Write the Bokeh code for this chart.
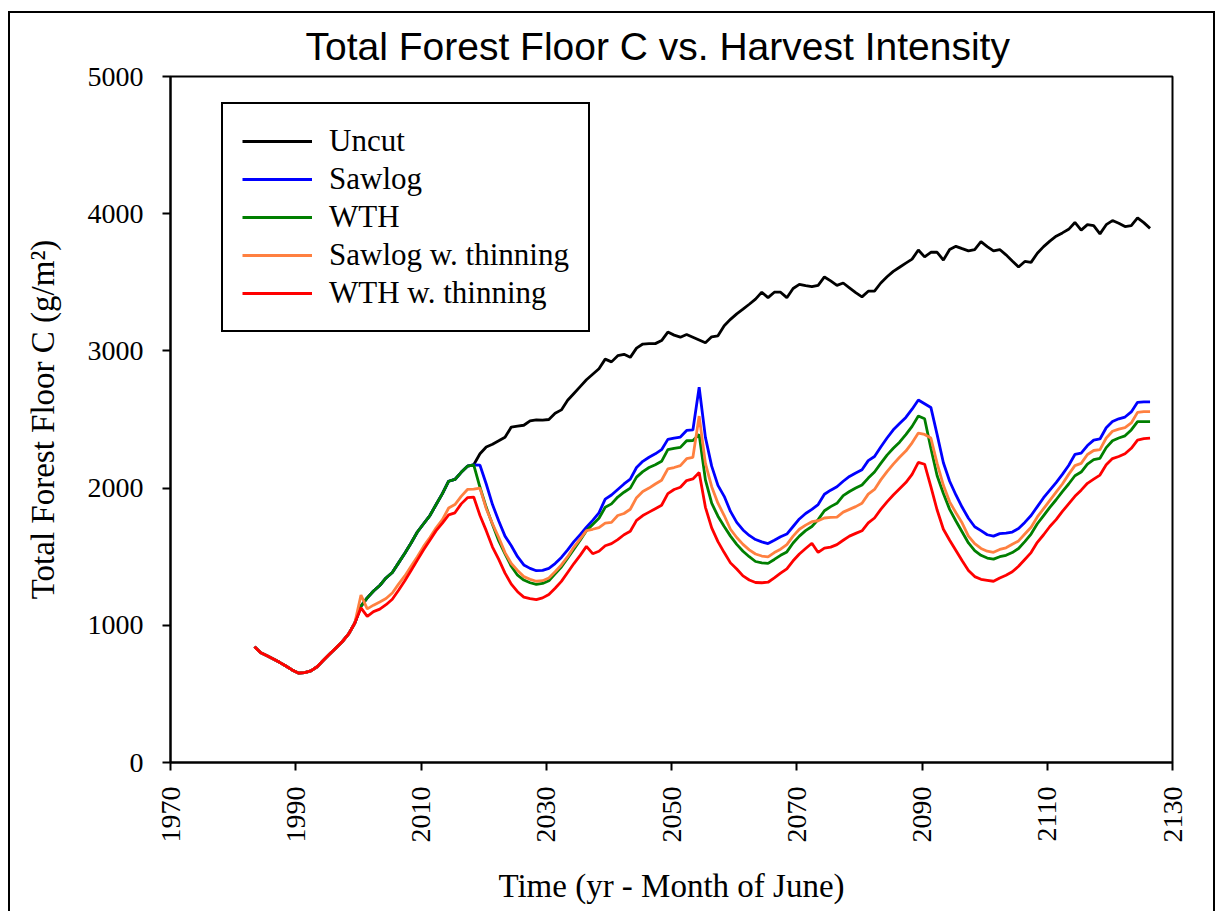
import numpy as np
from bokeh.plotting import figure
from bokeh.models import Legend, LegendItem, Range1d, FixedTicker
from bokeh.embed import file_html
from bokeh.resources import INLINE

# ---------------- data ----------------
years = list(range(1983, 2127))          # one value each June

pre_1983_1999 = [843, 800, 778, 755, 730, 703, 675, 652, 655, 668,
                 698, 745, 790, 835, 880, 935, 1015]

untreated_2000_2018 = [1140, 1200, 1250, 1290, 1345, 1385, 1455, 1525, 1600, 1680,
                       1740, 1800, 1880, 1960, 2050, 2063, 2115, 2160, 2170]

uncut_2019_2126 = [2250, 2300, 2320, 2345, 2370, 2445, 2452, 2458, 2490, 2498,
                   2495, 2500, 2545, 2570, 2640, 2690, 2740, 2790, 2830, 2870,
                   2940, 2920, 2965, 2975, 2953, 3020, 3050, 3053, 3053, 3075,
                   3137, 3115, 3100, 3120, 3100, 3080, 3060, 3103, 3110, 3184,
                   3230, 3270, 3304, 3340, 3377, 3428, 3388, 3428, 3428, 3388,
                   3455, 3485, 3475, 3468, 3478, 3539, 3510, 3478, 3495, 3460,
                   3425, 3394, 3435, 3435, 3495, 3540, 3580, 3610, 3640, 3669,
                   3735, 3685, 3719, 3719, 3662, 3739, 3762, 3745, 3729, 3739,
                   3796, 3760, 3729, 3739, 3700, 3655, 3612, 3652, 3645, 3712,
                   3760, 3800, 3836, 3860, 3886, 3936, 3880, 3920, 3913, 3853,
                   3920, 3950, 3930, 3906, 3913, 3970, 3935, 3893]

sawlog_2019_2126 = [2167, 2030, 1880, 1760, 1650, 1580, 1500, 1440, 1415, 1398,
                    1400, 1415, 1450, 1495, 1550, 1610, 1660, 1715, 1765, 1820,
                    1920, 1950, 1990, 2030, 2065, 2150, 2195, 2225, 2250, 2280,
                    2355, 2365, 2372, 2420, 2424, 2735, 2370, 2160, 2020, 1940,
                    1830, 1750, 1695, 1655, 1625, 1608, 1596, 1620, 1645, 1665,
                    1720, 1775, 1815, 1845, 1880, 1955, 1985, 2010, 2050, 2085,
                    2110, 2134, 2200, 2230, 2300, 2365, 2425, 2470, 2515, 2575,
                    2642, 2615, 2588, 2390, 2185, 2050, 1950, 1860, 1780, 1718,
                    1690, 1660, 1650, 1668, 1672, 1680, 1705, 1750, 1800, 1865,
                    1930, 1985, 2040, 2100, 2165, 2245, 2255, 2310, 2350, 2358,
                    2440, 2485, 2505, 2518, 2555, 2625, 2628, 2628]

wth_2019_2126 = [2006, 1860, 1735, 1615, 1520, 1430, 1365, 1330, 1310, 1298,
                 1305, 1325, 1375, 1425, 1490, 1555, 1620, 1690, 1735, 1780,
                 1860, 1885, 1935, 1970, 2000, 2080, 2120, 2150, 2170, 2195,
                 2280, 2290, 2297, 2345, 2347, 2391, 2060, 1890, 1795, 1720,
                 1650, 1590, 1540, 1500, 1465, 1455, 1451, 1480, 1510, 1535,
                 1600, 1650, 1690, 1720, 1770, 1835, 1865, 1889, 1945, 1975,
                 2000, 2023, 2073, 2117, 2180, 2240, 2290, 2335, 2390, 2450,
                 2525, 2505, 2290, 2090, 1960, 1845, 1760, 1680, 1600, 1545,
                 1510, 1490, 1482, 1500, 1510, 1530, 1560, 1610, 1665, 1740,
                 1800, 1860, 1915, 1975, 2030, 2090, 2117, 2175, 2207, 2217,
                 2295, 2345, 2365, 2381, 2424, 2485, 2485, 2485]

sawlog_thin_2000_2126 = [1221, 1120, 1147, 1170, 1195, 1235, 1300, 1360, 1430, 1500,
                         1575, 1640, 1710, 1770, 1855, 1880, 1940, 1990, 1992, 2000,
                         1850, 1740, 1640, 1530, 1450, 1400, 1355, 1335, 1321, 1325,
                         1345, 1390, 1440, 1500, 1570, 1630, 1690, 1700, 1712, 1745,
                         1750, 1800, 1815, 1846, 1930, 1975, 2000, 2030, 2057, 2140,
                         2150, 2164, 2214, 2224, 2525, 2180, 2010, 1890, 1800, 1700,
                         1640, 1590, 1550, 1520, 1505, 1498, 1530, 1555, 1588, 1650,
                         1700, 1730, 1755, 1762, 1782, 1786, 1789, 1825, 1845, 1865,
                         1889, 1956, 1990, 2060, 2120, 2175, 2225, 2270, 2330, 2401,
                         2391, 2365, 2180, 2020, 1900, 1820, 1745, 1650, 1595, 1560,
                         1540, 1532, 1553, 1565, 1590, 1615, 1665, 1715, 1790, 1850,
                         1910, 1970, 2030, 2100, 2164, 2180, 2245, 2274, 2281, 2365,
                         2414, 2430, 2441, 2475, 2552, 2558, 2558]

wth_thin_2000_2126 = [1127, 1065, 1100, 1118, 1150, 1190, 1255, 1325, 1400, 1475,
                      1550, 1620, 1690, 1745, 1805, 1820, 1885, 1930, 1935, 1800,
                      1690, 1570, 1480, 1380, 1300, 1245, 1205, 1195, 1187, 1200,
                      1225, 1270, 1320, 1385, 1450, 1510, 1575, 1522, 1540, 1580,
                      1595, 1625, 1660, 1685, 1765, 1800, 1825, 1850, 1875, 1960,
                      1990, 2006, 2055, 2067, 2113, 1860, 1710, 1610, 1530, 1455,
                      1410, 1360, 1330, 1312, 1310, 1314, 1345, 1380, 1412, 1470,
                      1520, 1560, 1598, 1531, 1562, 1570, 1588, 1620, 1650, 1670,
                      1689, 1746, 1782, 1845, 1900, 1950, 1995, 2040, 2100, 2187,
                      2174, 2010, 1840, 1700, 1620, 1545, 1470, 1400, 1355, 1335,
                      1328, 1321, 1345, 1365, 1390, 1430, 1480, 1530, 1605, 1660,
                      1720, 1770, 1830, 1885, 1940, 1985, 2035, 2065, 2095, 2170,
                      2215, 2230, 2250, 2290, 2350, 2360, 2364]

series_names = ["Uncut", "Sawlog", "WTH", "Sawlog w. thinning", "WTH w. thinning"]
series_colors = ["#000000", "#0000FF", "#007F00", "#FF8040", "#FF0000"]

x_ticks = [1970, 1990, 2010, 2030, 2050, 2070, 2090, 2110, 2130]
y_ticks = [0, 1000, 2000, 3000, 4000, 5000]

# ---------------- build series ----------------
t = np.array(years) + 5 / 12.0   # month of June
series_values = [
    pre_1983_1999 + untreated_2000_2018 + uncut_2019_2126,
    pre_1983_1999 + untreated_2000_2018 + sawlog_2019_2126,
    pre_1983_1999 + untreated_2000_2018 + wth_2019_2126,
    pre_1983_1999 + sawlog_thin_2000_2126,
    pre_1983_1999 + wth_thin_2000_2126,
]

SERIF = "Liberation Serif"

p = figure(width=1207, height=900, output_backend="svg", toolbar_location=None,
           x_range=Range1d(1970, 2130), y_range=Range1d(0, 5000),
           min_border_left=160, min_border_right=45, min_border_top=63,
           min_border_bottom=151)
p.styles = {"margin-left": "8px", "margin-top": "11px",
            "border-left": "2px solid black", "border-top": "2px solid black",
            "border-right": "2px solid black", "box-sizing": "border-box"}

p.title.text = "Total Forest Floor C vs. Harvest Intensity"
p.title.text_font = "Liberation Sans"
p.title.text_font_size = "39px"
p.title.text_font_style = "normal"
p.title.text_color = "black"
p.title.align = "left"
p.title.offset = 135
p.title.standoff = 18

p.grid.visible = False
p.outline_line_color = "black"
p.outline_line_width = 2
p.background_fill_color = "white"
p.border_fill_color = "white"

for ax in (p.xaxis[0], p.yaxis[0]):
    ax.axis_line_width = 2
    ax.axis_line_color = "black"
    ax.major_tick_line_width = 2
    ax.major_tick_out = 8
    ax.major_tick_in = 0
    ax.minor_tick_line_color = None
    ax.major_label_text_font = SERIF
    ax.major_label_text_color = "black"
    ax.major_label_text_font_size = "28px"
    ax.axis_label_text_font = SERIF
    ax.axis_label_text_font_style = "normal"
    ax.axis_label_text_color = "black"
    ax.axis_label_text_font_size = "33px"

p.xaxis.ticker = FixedTicker(ticks=x_ticks)
p.yaxis.ticker = FixedTicker(ticks=y_ticks)
p.xaxis.major_label_orientation = np.pi / 2
p.xaxis.major_label_standoff = 16
p.yaxis.major_label_standoff = 19
p.xaxis.axis_label = "Time (yr - Month of June)"
p.yaxis.axis_label = "Total Forest Floor C (g/m\u00b2)"
p.xaxis.axis_label_standoff = 22
p.yaxis.axis_label_standoff = 24

items = []
for name, col, vals in zip(series_names, series_colors, series_values):
    r = p.line(t, vals, line_color=col, line_width=2.8)
    items.append(LegendItem(label=name, renderers=[r]))

legend = Legend(items=items, location=(51, 430))
legend.label_text_font = SERIF
legend.label_text_font_size = "31px"
legend.label_text_color = "black"
legend.label_height = 30
legend.glyph_height = 30
legend.glyph_width = 70
legend.spacing = 2
legend.padding = 19
legend.margin = 0
legend.label_standoff = 17
legend.border_line_color = "black"
legend.border_line_alpha = 1.0
legend.border_line_width = 2
legend.background_fill_alpha = 1.0
p.add_layout(legend, "center")

open("out.html", "w").write(file_html(p, INLINE))
